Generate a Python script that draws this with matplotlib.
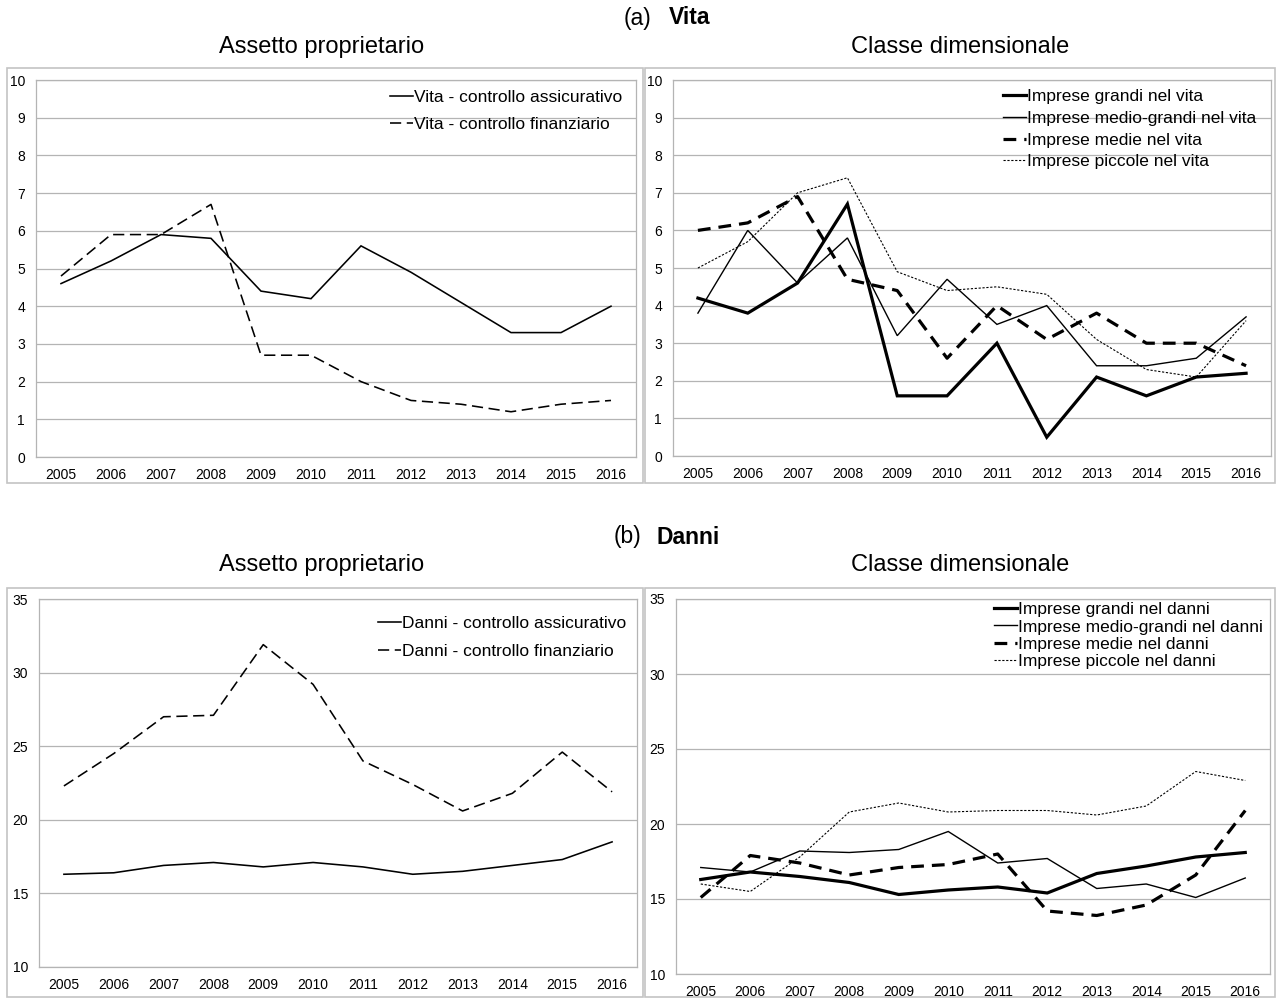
import numpy as np
import matplotlib.pyplot as plt
from matplotlib.patches import Rectangle

plt.rcParams['font.family'] = ['Liberation Sans', 'DejaVu Sans']

W, H = 1276, 998

years = [2005, 2006, 2007, 2008, 2009, 2010, 2011, 2012, 2013, 2014, 2015, 2016]

# (a) Vita - assetto proprietario
vita_assic = [4.6, 5.2, 5.9, 5.8, 4.4, 4.2, 5.6, 4.9, 4.1, 3.3, 3.3, 4.0]
vita_finanz = [4.8, 5.9, 5.9, 6.7, 2.7, 2.7, 2.0, 1.5, 1.4, 1.2, 1.4, 1.5]

# (a) Vita - classe dimensionale
vita_grandi = [4.2, 3.8, 4.6, 6.7, 1.6, 1.6, 3.0, 0.5, 2.1, 1.6, 2.1, 2.2]
vita_mediograndi = [3.8, 6.0, 4.6, 5.8, 3.2, 4.7, 3.5, 4.0, 2.4, 2.4, 2.6, 3.7]
vita_medie = [6.0, 6.2, 6.9, 4.7, 4.4, 2.6, 4.0, 3.1, 3.8, 3.0, 3.0, 2.4]
vita_piccole = [5.0, 5.7, 7.0, 7.4, 4.9, 4.4, 4.5, 4.3, 3.1, 2.3, 2.1, 3.6]

# (b) Danni - assetto proprietario
danni_assic = [16.3, 16.4, 16.9, 17.1, 16.8, 17.1, 16.8, 16.3, 16.5, 16.9, 17.3, 18.5]
danni_finanz = [22.3, 24.5, 27.0, 27.1, 31.9, 29.2, 24.0, 22.4, 20.6, 21.8, 24.6, 21.9]

# (b) Danni - classe dimensionale
danni_grandi = [16.3, 16.8, 16.5, 16.1, 15.3, 15.6, 15.8, 15.4, 16.7, 17.2, 17.8, 18.1]
danni_mediograndi = [17.1, 16.8, 18.2, 18.1, 18.3, 19.5, 17.4, 17.7, 15.7, 16.0, 15.1, 16.4]
danni_medie = [15.1, 17.9, 17.4, 16.6, 17.1, 17.3, 18.0, 14.2, 13.9, 14.6, 16.6, 20.9]
danni_piccole = [16.0, 15.5, 17.8, 20.8, 21.4, 20.8, 20.9, 20.9, 20.6, 21.2, 23.5, 22.9]

solid = dict(lw=1.15, ls='-')
dashed = dict(lw=1.15, ls=(0, (7, 3.5)))
grandi = dict(lw=2.3, ls='-')
mediograndi = dict(lw=1.0, ls='-')
medie = dict(lw=2.3, ls=(0, (4, 2.5)))
piccole = dict(lw=0.8, ls=(0, (2, 1.5)))

grid_col = '#b4b4b4'
frame_col = '#c4c4c4'

fig = plt.figure(figsize=(W / 100, H / 100), dpi=100)


def px(x, y):
    return x / W, 1 - y / H


def frame(l, t, r, b):
    x0, y0 = px(l, b)
    fig.patches.append(Rectangle((x0, y0), (r - l) / W, (b - t) / H,
                                 transform=fig.transFigure, fill=False,
                                 edgecolor=frame_col, lw=1.2))


def panel(rect, ylim, ystep, series, leg_xy, leg_space):
    l, t, r, b = rect
    x0, y0 = px(l, b)
    ax = fig.add_axes([x0, y0, (r - l) / W, (b - t) / H])
    x = np.arange(len(years))
    for vals, lab, st in series:
        ax.plot(x, vals, color='black', label=lab, solid_joinstyle='miter', **st)
    ax.set_xlim(-0.5, len(years) - 0.5)
    ax.set_ylim(*ylim)
    ax.set_xticks(x)
    ax.set_xticklabels([str(y) for y in years])
    ax.set_yticks(np.arange(ylim[0], ylim[1] + 0.1, ystep))
    ax.tick_params(length=0, labelsize=10, pad=8)
    ax.grid(axis='y', color=grid_col, lw=0.9)
    ax.set_axisbelow(True)
    for s in ax.spines.values():
        s.set_color(grid_col)
        s.set_linewidth(0.9)
    ax.legend(loc='upper left', bbox_to_anchor=px(*leg_xy),
              bbox_transform=fig.transFigure, frameon=False, fontsize=12.5,
              borderpad=0, borderaxespad=0, handlelength=1.3,
              handletextpad=0.1, labelspacing=leg_space)
    return ax


# panel borders
frame(7, 68, 643, 483)
frame(645, 68, 1275, 483)
frame(7, 588, 643, 997)
frame(645, 588, 1275, 997)

# section titles
fig.text(651 / W, 1 - 18 / H, '(a)', ha='right', va='center', fontsize=16.5)
fig.text(669 / W, 1 - 18 / H, 'Vita', ha='left', va='center', fontsize=16.5,
         fontweight='bold')
fig.text(641 / W, 1 - 537 / H, '(b)', ha='right', va='center', fontsize=16.5)
fig.text(657 / W, 1 - 537 / H, 'Danni', ha='left', va='center', fontsize=16.5,
         fontweight='bold')

for yy in (47, 565):
    fig.text(322 / W, 1 - yy / H, 'Assetto proprietario', ha='center',
             va='center', fontsize=17)
    fig.text(960 / W, 1 - yy / H, 'Classe dimensionale', ha='center',
             va='center', fontsize=17)

panel((36, 80, 636, 457), (0, 10), 1,
      [(vita_assic, 'Vita - controllo assicurativo', solid),
       (vita_finanz, 'Vita - controllo finanziario', dashed)],
      (390, 90), 0.67)

panel((673, 80, 1271, 456), (0, 10), 1,
      [(vita_grandi, 'Imprese grandi nel vita', grandi),
       (vita_mediograndi, 'Imprese medio-grandi nel vita', mediograndi),
       (vita_medie, 'Imprese medie nel vita', medie),
       (vita_piccole, 'Imprese piccole nel vita', piccole)],
      (1003, 89), 0.38)

panel((39, 599, 637, 967), (10, 35), 5,
      [(danni_assic, 'Danni - controllo assicurativo', solid),
       (danni_finanz, 'Danni - controllo finanziario', dashed)],
      (378, 616), 0.72)

panel((676, 599, 1270, 974), (10, 35), 5,
      [(danni_grandi, 'Imprese grandi nel danni', grandi),
       (danni_mediograndi, 'Imprese medio-grandi nel danni', mediograndi),
       (danni_medie, 'Imprese medie nel danni', medie),
       (danni_piccole, 'Imprese piccole nel danni', piccole)],
      (994, 602), 0.13)

fig.savefig('out.png', dpi=100)
